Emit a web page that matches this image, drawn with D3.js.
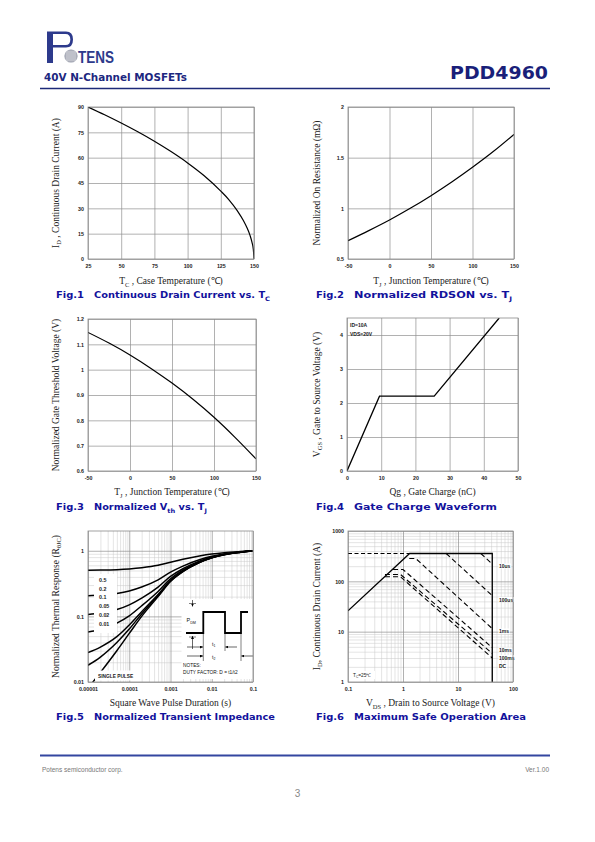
<!DOCTYPE html>
<html><head><meta charset="utf-8">
<script src="https://cdn.jsdelivr.net/npm/d3@7"></script>
<style>body{margin:0;background:#fff}svg{display:block}</style>
</head><body>
<script>
// ---------------- DATA ----------------
const fig1Temp = [25, 37.5, 50, 62.5, 75, 87.5, 100, 112.5, 125, 131, 137.5, 142, 145, 147, 148.5, 149.5, 150];
const fig1Current = [90, 85.4, 80.5, 75.3, 69.7, 63.6, 56.9, 49.3, 40.2, 35.2, 28.5, 22.8, 18, 14, 9.8, 5.7, 0];
const fig1XTicks = [25, 50, 75, 100, 125, 150];
const fig1YTicks = [0, 15, 30, 45, 60, 75, 90];

const fig2Temp = [-50, -25, 0, 25, 50, 75, 100, 125, 150];
const fig2Rdson = [0.68, 0.78, 0.885, 1.0, 1.125, 1.26, 1.405, 1.56, 1.73];
const fig2XTicks = [-50, 0, 50, 100, 150];
const fig2YTicks = [0.5, 1, 1.5, 2];

const fig3Temp = [-50, -25, 0, 25, 50, 75, 100, 125, 150];
const fig3Vth = [1.147, 1.105, 1.058, 1.005, 0.947, 0.883, 0.812, 0.733, 0.648];
const fig3XTicks = [-50, 0, 50, 100, 150];
const fig3YTicks = [0.6, 0.7, 0.8, 0.9, 1, 1.1, 1.2];

const fig4Charge = [0, 9.5, 25.5, 44.5];
const fig4Vgs = [0, 2.2, 2.2, 4.5];
const fig4XTicks = [0, 10, 20, 30, 40, 50];
const fig4YTicks = [0, 1, 2, 3, 4];

const fig5Time = [1e-5, 2e-5, 5e-5, 1e-4, 2e-4, 5e-4, 1e-3, 2e-3, 5e-3, 1e-2, 2e-2, 5e-2, 1e-1];
const fig5D05 = [0.504, 0.507, 0.515, 0.528, 0.55, 0.60, 0.67, 0.74, 0.83, 0.89, 0.935, 0.975, 1.0];
const fig5D02 = [0.206, 0.211, 0.224, 0.244, 0.28, 0.36, 0.472, 0.584, 0.728, 0.824, 0.896, 0.96, 1.0];
const fig5D01 = [0.107, 0.113, 0.127, 0.15, 0.19, 0.28, 0.406, 0.532, 0.694, 0.802, 0.883, 0.955, 1.0];
const fig5D005 = [0.058, 0.063, 0.079, 0.102, 0.145, 0.24, 0.373, 0.506, 0.677, 0.791, 0.877, 0.953, 1.0];
const fig5D002 = [0.028, 0.034, 0.049, 0.074, 0.118, 0.216, 0.353, 0.49, 0.667, 0.784, 0.873, 0.951, 1.0];
const fig5D001 = [0.018, 0.024, 0.04, 0.064, 0.109, 0.208, 0.347, 0.485, 0.663, 0.782, 0.871, 0.95, 1.0];
const fig5Single = [0.008, 0.014, 0.03, 0.055, 0.1, 0.2, 0.34, 0.48, 0.66, 0.78, 0.87, 0.95, 1.0];
const fig5DutyLabels = ["0.5", "0.2", "0.1", "0.05", "0.02", "0.01"];
const fig5XTicks = [1e-5, 1e-4, 1e-3, 1e-2, 1e-1];
const fig5XLabels = ["0.00001", "0.0001", "0.001", "0.01", "0.1"];
const fig5YTicks = [0.01, 0.1, 1];
const fig5YLabels = ["0.01", "0.1", "1"];

const fig6LimitV = [0.1, 1.32, 42, 42];
const fig6LimitI = [26, 357, 357, 1];
const fig6TopDashV = [0.1, 1.32];
const fig6TopDashI = [357, 357];
const fig6Names = ["10us", "100us", "1ms", "10ms", "100ms", "DC"];
const fig6PulseV = [[26, 42], [6.1, 42], [1.3, 1.7, 42], [0.66, 1.0, 42], [0.47, 0.9, 42], [0.47, 0.9, 42]];
const fig6PulseI = [[357, 221], [357, 52], [285, 285, 11.5], [172, 172, 4.8], [137, 137, 3.7], [123, 123, 3.0]];
const fig6XTicks = [0.1, 1, 10, 100];
const fig6XLabels = ["0.1", "1", "10", "100"];
const fig6YTicks = [1, 10, 100, 1000];
const fig6YLabels = ["1", "10", "100", "1000"];

// ---------------- SETUP ----------------
const NAVY = "#1c2780";
const CAP = "#12129c";
const SANS = "'Liberation Sans', Arial, sans-serif";
const SERIF = "'Liberation Serif', 'Times New Roman', serif";
const BOLDW = "'DejaVu Sans', Verdana, sans-serif";

const svg = d3.select("body").append("svg").attr("width", 595).attr("height", 842);
svg.append("rect").attr("width", 595).attr("height", 842).attr("fill", "#fff");
const defs = svg.append("defs");

function rich(t, parts, size) {
  let shifted = false;
  parts.forEach(p => {
    const isSub = Array.isArray(p);
    const s = isSub ? p[0] : p;
    const ts = t.append("tspan").text(s);
    if (isSub) {
      ts.attr("font-size", size * 0.68);
      if (!shifted) { ts.attr("dy", size * 0.28); shifted = true; }
    } else if (shifted) { ts.attr("dy", -size * 0.28); shifted = false; }
  });
  return t;
}

// ---------------- HEADER ----------------
const logo = svg.append("g");
logo.append("path").attr("d", "M47,31.5 H66 Q73,31.5 73,39.5 Q73,47.5 66,47.5 H53 V63 H47 Z").attr("fill", "#2d3a8c");
logo.append("path").attr("d", "M53,34 H65.5 Q70.3,34 70.3,39.5 Q70.3,45 65.5,45 H53 Z").attr("fill", "#fff");
logo.append("circle").attr("cx", 71).attr("cy", 56).attr("r", 6.6).attr("fill", "#8e93a3");
[-4, -2, 0, 2, 4].forEach(d => {
  logo.append("line").attr("x1", 71 + d).attr("x2", 71 + d).attr("y1", 49.6).attr("y2", 62.4).attr("stroke", "#fff").attr("stroke-width", 0.5);
  logo.append("line").attr("y1", 56 + d).attr("y2", 56 + d).attr("x1", 64.6).attr("x2", 77.4).attr("stroke", "#fff").attr("stroke-width", 0.5);
});
logo.append("text").attr("x", 78).attr("y", 63).attr("font-family", SANS).attr("font-size", 16).attr("font-weight", "bold")
  .attr("fill", "#2d3a8c").attr("textLength", 36).attr("lengthAdjust", "spacingAndGlyphs").text("TENS");

svg.append("text").attr("x", 44).attr("y", 80.5).attr("font-family", BOLDW).attr("font-weight", "bold")
  .attr("font-size", 10.2).attr("fill", NAVY).attr("textLength", 143).attr("lengthAdjust", "spacingAndGlyphs").text("40V N-Channel MOSFETs");
svg.append("text").attr("x", 548).attr("y", 79).attr("text-anchor", "end").attr("font-family", BOLDW).attr("font-weight", "bold")
  .attr("font-size", 17).attr("fill", "#1a1f7a").attr("textLength", 98).attr("lengthAdjust", "spacingAndGlyphs").text("PDD4960");
svg.append("line").attr("x1", 40).attr("x2", 550).attr("y1", 88.5).attr("y2", 88.5).attr("stroke", "#1d2a78").attr("stroke-width", 1.3);

// ---------------- PANEL HELPERS ----------------
function styleAxis(ax, gridColor, gridW, fs) {
  ax.select(".domain").remove();
  ax.selectAll("line").attr("stroke", gridColor).attr("stroke-width", gridW);
  ax.selectAll("text").attr("font-size", fs).attr("font-weight", "bold").attr("fill", "#222");
  ax.attr("font-family", SANS);
}

function panel(o) {
  const x = (o.log ? d3.scaleLog() : d3.scaleLinear()).domain(o.xd).range([o.l, o.r]);
  const y = (o.ylog ? d3.scaleLog() : d3.scaleLinear()).domain(o.yd).range([o.b, o.t]);
  const g = svg.append("g");
  const id = "clip" + Math.round(o.l) + "_" + Math.round(o.t);
  defs.append("clipPath").attr("id", id).append("rect").attr("x", o.l).attr("y", o.t).attr("width", o.r - o.l).attr("height", o.b - o.t);
  if (o.minorX) {
    const mx = g.append("g").attr("transform", `translate(0,${o.b})`)
      .call(d3.axisBottom(x).tickValues(o.minorX).tickSize(-(o.b - o.t)).tickFormat(""));
    styleAxis(mx, "#c8c8c8", 0.5, 5);
  }
  if (o.minorY) {
    const my = g.append("g").attr("transform", `translate(${o.l},0)`)
      .call(d3.axisLeft(y).tickValues(o.minorY).tickSize(-(o.r - o.l)).tickFormat(""));
    styleAxis(my, "#c8c8c8", 0.5, 5);
  }
  const ax = g.append("g").attr("transform", `translate(0,${o.b})`)
    .call(d3.axisBottom(x).tickValues(o.xt).tickSize(-(o.b - o.t)).tickPadding(5).tickFormat(o.xf));
  styleAxis(ax, "#8f8f8f", 0.7, 5.3);
  const ay = g.append("g").attr("transform", `translate(${o.l},0)`)
    .call(d3.axisLeft(y).tickValues(o.yt).tickSize(-(o.r - o.l)).tickPadding(4).tickFormat(o.yf));
  styleAxis(ay, "#8f8f8f", 0.7, 5.3);
  const marks = g.append("g").attr("clip-path", `url(#${id})`);
  const overlay = g.append("g");
  const border = () => g.append("rect").attr("x", o.l).attr("y", o.t).attr("width", o.r - o.l).attr("height", o.b - o.t)
    .attr("fill", "none").attr("stroke", "#8a8a8a").attr("stroke-width", 0.8);
  rich(svg.append("text").attr("x", (o.l + o.r) / 2).attr("y", o.xTitleY).attr("text-anchor", "middle")
    .attr("font-family", SERIF).attr("font-size", 9.5).attr("fill", "#222"), o.xTitle, 9.5);
  rich(svg.append("text").attr("transform", `translate(${o.yTitleX},${(o.t + o.b) / 2}) rotate(-90)`).attr("text-anchor", "middle")
    .attr("font-family", SERIF).attr("font-size", 9.5).attr("fill", "#222"), o.yTitle, 9.5);
  svg.append("text").attr("x", o.capX).attr("y", o.capY).attr("font-family", BOLDW).attr("font-weight", "bold")
    .attr("font-size", 9).attr("fill", CAP).attr("textLength", 28).attr("lengthAdjust", "spacingAndGlyphs").text(o.figLabel);
  rich(svg.append("text").attr("x", o.capX + 38).attr("y", o.capY).attr("font-family", BOLDW).attr("font-weight", "bold")
    .attr("font-size", 9).attr("fill", CAP).attr("textLength", o.capLen).attr("lengthAdjust", "spacingAndGlyphs"), o.caption, 9);
  return { x, y, marks, overlay, border, g };
}

function minorTicks(lo, hi) {
  const out = [];
  for (let e = Math.floor(Math.log10(lo)); e < Math.ceil(Math.log10(hi)); e++)
    for (let m = 2; m <= 9; m++) { const v = m * Math.pow(10, e); if (v > lo && v < hi) out.push(v); }
  return out;
}

function drawLine(p, xs, ys, opts = {}) {
  const data = xs.map((v, i) => [v, ys[i]]);
  const ln = d3.line().x(d => p.x(d[0])).y(d => p.y(d[1]));
  if (opts.curve) ln.curve(d3.curveMonotoneX);
  return p.marks.append("path").datum(data).attr("d", ln).attr("fill", "none")
    .attr("stroke", "#000").attr("stroke-width", opts.w || 1.2)
    .attr("stroke-dasharray", opts.dash || null);
}

// ---------------- FIG 1 ----------------
const p1 = panel({ l: 88, r: 254, t: 107, b: 259, xd: [25, 150], yd: [0, 90], xt: fig1XTicks, yt: fig1YTicks,
  xf: d => d, yf: d => d, xTitleY: 284, yTitleX: 58.5,
  xTitle: ["T", ["C"], " , Case Temperature (℃)"], yTitle: ["I", ["D"], " , Continuous Drain Current (A)"],
  capX: 56, capY: 298, figLabel: "Fig.1", caption: ["Continuous Drain Current vs. T", ["C"]], capLen: 176 });
drawLine(p1, fig1Temp, fig1Current, { curve: true });
p1.border();

// ---------------- FIG 2 ----------------
const p2 = panel({ l: 348, r: 514, t: 107, b: 259, xd: [-50, 150], yd: [0.5, 2], xt: fig2XTicks, yt: fig2YTicks,
  xf: d => d, yf: d => d, xTitleY: 284, yTitleX: 319.5,
  xTitle: ["T", ["J"], " , Junction Temperature (℃)"], yTitle: ["Normalized On Resistance (mΩ)"],
  capX: 316, capY: 298, figLabel: "Fig.2", caption: ["Normalized RDSON vs. T", ["J"]], capLen: 158 });
drawLine(p2, fig2Temp, fig2Rdson, { curve: true });
p2.border();

// ---------------- FIG 3 ----------------
const p3 = panel({ l: 88, r: 256, t: 319, b: 471, xd: [-50, 150], yd: [0.6, 1.2], xt: fig3XTicks, yt: fig3YTicks,
  xf: d => d, yf: d => d, xTitleY: 495, yTitleX: 58.5,
  xTitle: ["T", ["J"], " , Junction Temperature (℃)"], yTitle: ["Normalized Gate Threshold Voltage (V)"],
  capX: 56, capY: 510, figLabel: "Fig.3", caption: ["Normalized V", ["th"], " vs. T", ["J"]], capLen: 113 });
drawLine(p3, fig3Temp, fig3Vth, { curve: true });
p3.border();

// ---------------- FIG 4 ----------------
const p4 = panel({ l: 347, r: 518, t: 318, b: 471, xd: [0, 50], yd: [0, 4.5], xt: fig4XTicks, yt: fig4YTicks,
  xf: d => d, yf: d => d, xTitleY: 495, yTitleX: 319.5,
  xTitle: ["Qg , Gate Charge (nC)"], yTitle: ["V", ["GS"], " , Gate to Source Voltage (V)"],
  capX: 316, capY: 510, figLabel: "Fig.4", caption: ["Gate Charge Waveform"], capLen: 143 });
drawLine(p4, fig4Charge, fig4Vgs, { w: 1.3 });
p4.overlay.append("text").attr("x", p4.x(0) + 3).attr("y", 327).attr("font-family", SANS).attr("font-weight", "bold")
  .attr("font-size", 5).attr("fill", "#222").text("ID=10A");
p4.overlay.append("text").attr("x", p4.x(0) + 3).attr("y", 335.5).attr("font-family", SANS).attr("font-weight", "bold")
  .attr("font-size", 5).attr("fill", "#222").text("VDS=20V");
p4.border();

// ---------------- FIG 5 ----------------
const p5 = panel({ l: 88, r: 253, t: 531, b: 682, xd: [1e-5, 0.1], yd: [0.01, 2], log: true, ylog: true,
  xt: fig5XTicks, yt: fig5YTicks, xf: (d, i) => fig5XLabels[i], yf: (d, i) => fig5YLabels[i],
  minorX: minorTicks(1e-5, 0.1), minorY: minorTicks(0.01, 2),
  xTitleY: 706, yTitleX: 58.5,
  xTitle: ["Square Wave Pulse Duration (s)"], yTitle: ["Normalized Thermal Response (R", ["θJC"], ")"],
  capX: 56, capY: 720, figLabel: "Fig.5", caption: ["Normalized Transient Impedance"], capLen: 181 });
[fig5D05, fig5D02, fig5D01, fig5D005, fig5D002, fig5D001, fig5Single].forEach(s => drawLine(p5, fig5Time, s, { curve: true, w: 1.5 }));
p5.overlay.append("rect").attr("x", 94).attr("y", 574).attr("width", 23).attr("height", 59).attr("fill", "#fff");
fig5DutyLabels.forEach((lab, i) => {
  p5.overlay.append("text").attr("x", 99).attr("y", 582 + i * 8.7).attr("font-family", SANS).attr("font-weight", "bold")
    .attr("font-size", 5.3).attr("fill", "#222").text(lab);
});
p5.overlay.append("rect").attr("x", 95).attr("y", 670.5).attr("width", 40).attr("height", 10).attr("fill", "#fff");
p5.overlay.append("text").attr("x", 98).attr("y", 677.5).attr("font-family", SANS).attr("font-weight", "bold")
  .attr("font-size", 4.8).attr("fill", "#222").text("SINGLE PULSE");
const ins = p5.overlay.append("g");
ins.append("rect").attr("x", 181.5).attr("y", 599).attr("width", 71.5).attr("height", 80).attr("fill", "#fff");
ins.append("path").attr("d", "M186,633 H203.3 V612 H225 V633 H241 V612 H248").attr("fill", "none").attr("stroke", "#000").attr("stroke-width", 1.8);
defs.append("marker").attr("id", "ah").attr("viewBox", "0 0 10 10").attr("refX", 10).attr("refY", 5)
  .attr("markerWidth", 5).attr("markerHeight", 5).attr("orient", "auto-start-reverse")
  .append("path").attr("d", "M0,0 L10,5 L0,10 Z").attr("fill", "#000");
const arrow = (x1, y1, x2, y2) => ins.append("line").attr("x1", x1).attr("y1", y1).attr("x2", x2).attr("y2", y2)
  .attr("stroke", "#000").attr("stroke-width", 0.6).attr("marker-end", "url(#ah)");
const thin = (x1, y1, x2, y2) => ins.append("line").attr("x1", x1).attr("y1", y1).attr("x2", x2).attr("y2", y2)
  .attr("stroke", "#000").attr("stroke-width", 0.5);
arrow(192.5, 600, 192.5, 606.5); thin(189, 603.5, 196, 603.5);
arrow(192.5, 649, 192.5, 636); thin(189, 637, 196, 637);
thin(203.3, 634, 203.3, 661); thin(225, 634, 225, 651); thin(241, 634, 241, 661);
arrow(187, 647, 203, 647); arrow(237, 647, 225.3, 647);
arrow(187, 656, 203, 656); arrow(253, 656, 241.3, 656);
rich(ins.append("text").attr("x", 186.5).attr("y", 622).attr("font-family", SANS).attr("font-size", 5.5).attr("fill", "#111"), ["P", ["DM"]], 5.5);
rich(ins.append("text").attr("x", 212).attr("y", 645.5).attr("font-family", SANS).attr("font-size", 5.2).attr("fill", "#111"), ["t", ["1"]], 5.2);
rich(ins.append("text").attr("x", 212).attr("y", 659).attr("font-family", SANS).attr("font-size", 5.2).attr("fill", "#111"), ["t", ["2"]], 5.2);
ins.append("text").attr("x", 183).attr("y", 667).attr("font-family", SANS).attr("font-size", 4.8).attr("fill", "#111").text("NOTES:");
ins.append("text").attr("x", 183).attr("y", 673.5).attr("font-family", SANS).attr("font-size", 4.8).attr("fill", "#111").text("DUTY FACTOR: D = t1/t2");
p5.border();

// ---------------- FIG 6 ----------------
const p6 = panel({ l: 348, r: 513, t: 531, b: 682, xd: [0.1, 100], yd: [1, 1000], log: true, ylog: true,
  xt: fig6XTicks, yt: fig6YTicks, xf: (d, i) => fig6XLabels[i], yf: (d, i) => fig6YLabels[i],
  minorX: minorTicks(0.1, 100), minorY: minorTicks(1, 1000),
  xTitleY: 706, yTitleX: 319.5,
  xTitle: ["V", ["DS"], " , Drain to Source Voltage (V)"], yTitle: ["I", ["D"], ", Continuous Drain Current (A)"],
  capX: 316, capY: 720, figLabel: "Fig.6", caption: ["Maximum Safe Operation Area"], capLen: 172 });
drawLine(p6, fig6LimitV, fig6LimitI, { w: 1.3 });
drawLine(p6, fig6TopDashV, fig6TopDashI, { w: 1.2, dash: "4,2.5" });
fig6PulseV.forEach((vs, i) => drawLine(p6, vs, fig6PulseI[i], { w: 1.1, dash: "5,3" }));
const f6lab = [[568, "10us"], [601.5, "100us"], [633, "1ms"], [652, "10ms"], [659.5, "100ms"], [668, "DC"]];
f6lab.forEach(([yy, s]) => {
  const t = p6.overlay.append("text").attr("x", 499).attr("y", yy).attr("font-family", SANS).attr("font-weight", "bold")
    .attr("font-size", 5).attr("fill", "#222").text(s);
  const bb = t.node().getBBox();
  p6.overlay.insert("rect", "text").attr("x", bb.x - 0.5).attr("y", bb.y + 0.5).attr("width", bb.width + 1).attr("height", bb.height - 1).attr("fill", "#fff");
});
p6.overlay.append("rect").attr("x", 351).attr("y", 671).attr("width", 24).attr("height", 8).attr("fill", "#fff");
rich(p6.overlay.append("text").attr("x", 353).attr("y", 677).attr("font-family", SANS).attr("font-size", 4.8).attr("fill", "#222"), ["T", ["C"], "=25℃"], 4.8);
p6.border();

// ---------------- FOOTER ----------------
svg.append("line").attr("x1", 40).attr("x2", 550).attr("y1", 755.5).attr("y2", 755.5).attr("stroke", "#3346a0").attr("stroke-width", 2);
svg.append("text").attr("x", 42).attr("y", 772).attr("font-family", SANS).attr("font-size", 6.5).attr("fill", "#777").text("Potens semiconductor corp.");
svg.append("text").attr("x", 549).attr("y", 772).attr("text-anchor", "end").attr("font-family", SANS).attr("font-size", 6.5).attr("fill", "#777").text("Ver.1.00");
svg.append("text").attr("x", 297.5).attr("y", 797).attr("text-anchor", "middle").attr("font-family", SANS).attr("font-size", 10).attr("fill", "#888").text("3");
</script>
</body></html>
